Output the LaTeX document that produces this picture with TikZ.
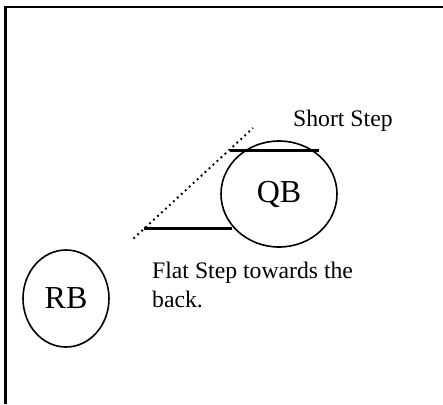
\documentclass[tikz,border=0pt]{standalone}
\usepackage{fontspec}
\setmainfont{Liberation Serif}
\usetikzlibrary{shapes.geometric}
\begin{document}
\begin{tikzpicture}[x=1pt,y=-1pt,
  player/.style={ellipse,draw,line width=1.6pt,inner sep=0pt,font=\fontsize{32}{36}\selectfont},
  label/.style={inner sep=0pt,font=\fontsize{23.7}{29}\selectfont,align=left},
  stepline/.style={line width=3pt},
  pathline/.style={line width=2pt,dash pattern=on 1.8pt off 3.6pt}]
  \useasboundingbox (0,0) rectangle (443,404);
  % page frame (top and left edges)
  \draw[line width=2.4pt] (5.3,404) -- (5.3,7) -- (443,7);
  % players
  \node[player,minimum width=116,minimum height=106] (qb) at (279,194) {QB};
  \node[player,minimum width=86,minimum height=97] (rb) at (66,298.5) {RB};
  % step marks
  \coordinate (s1) at (230,150);
  \coordinate (s2) at (319,150);
  \coordinate (f1) at (144,228);
  \coordinate (f2) at (232,228);
  \draw[stepline] (s1) -- (s2);
  \draw[stepline] (f1) -- (f2);
  % dotted drop path
  \coordinate (d1) at (133.5,238.5);
  \coordinate (d2) at (253,128);
  \draw[pathline] (d1) -- (d2);
  % captions
  \node[label,anchor=base west] (short) at (293,126) {Short Step};
  \node[label,anchor=base west] (flat) at (152,278) {Flat Step towards the};
  \node[label,anchor=base west] (back) at (152,307) {back.};
\end{tikzpicture}
\end{document}
